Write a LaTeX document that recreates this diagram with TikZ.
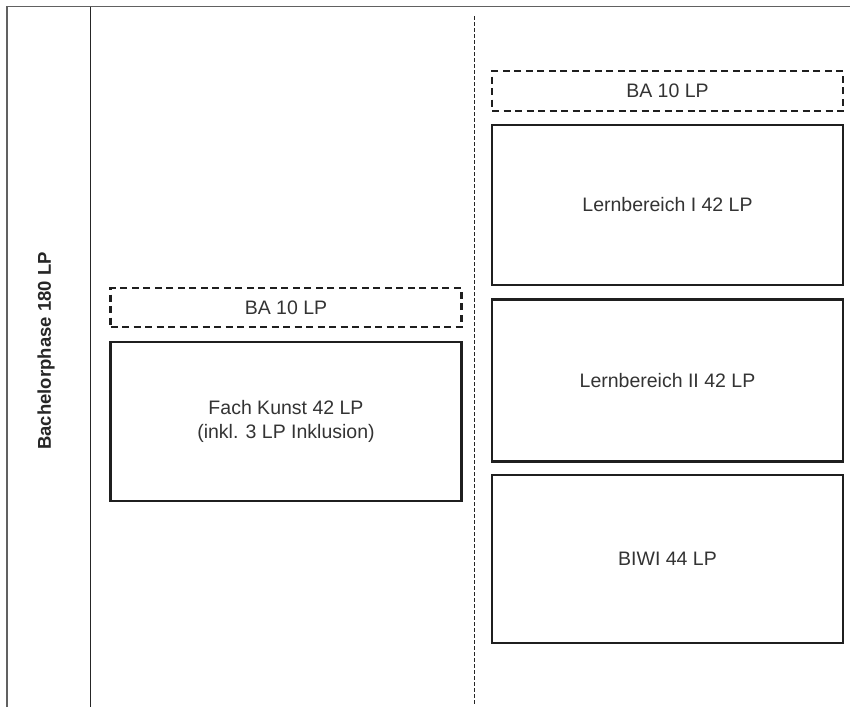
\documentclass[tikz,border=0pt]{standalone}
\usepackage{fontspec}
\setmainfont{Liberation Sans}
\begin{document}
\begin{tikzpicture}[x=1pt,y=-1pt,
  blk/.style={draw=black!88,line width=2.4pt,inner sep=0pt,text=black!80,font=\fontsize{19.5}{24}\selectfont,align=center},
  dbox/.style={draw=black!88,line width=2.4pt,dash pattern=on 7pt off 4.5pt,inner sep=0pt,text=black!80,font=\fontsize{19.5}{24}\selectfont},
  frameline/.style={draw=black!62,line width=1.8pt},
  sepline/.style={draw=black!85,line width=1.7pt},
  dotline/.style={draw=black!85,line width=1.1pt,dash pattern=on 3.5pt off 2.5pt}]
\useasboundingbox (0,0) rectangle (850,707);
% frame
\coordinate (tl) at (7,6.5);
\coordinate (tr) at (850,6.5);
\coordinate (bl) at (7,707);
\coordinate (st) at (90.5,6.5);
\coordinate (sb) at (90.5,707);
\coordinate (dt) at (474.5,16);
\coordinate (db) at (474.5,704);
\draw[frameline] (bl) -- (tl) -- (tr);
\draw[sepline] (st) -- (sb);
\draw[dotline] (dt) -- (db);
% side label
\node[rotate=90,font=\bfseries\fontsize{18.5}{22}\selectfont,text=black!85] (lab) at (46,351) {Bachelorphase 180 LP};
% left column
\node[dbox,minimum width=351pt,minimum height=39pt] (ba1) at (286,307.5) {BA 10 LP};
\node[blk,minimum width=351pt,minimum height=159pt] (kunst) at (286,421.5) {Fach Kunst 42 LP\\(inkl. 3 LP Inklusion)};
% right column
\node[dbox,minimum width=351pt,minimum height=40pt] (ba2) at (667.5,91) {BA 10 LP};
\node[blk,minimum width=351pt,minimum height=160pt] (lb1) at (667.5,205) {Lernbereich I 42 LP};
\node[blk,minimum width=351pt,minimum height=162pt] (lb2) at (667.5,380.5) {Lernbereich II 42 LP};
\node[blk,minimum width=351pt,minimum height=168pt] (biwi) at (667.5,559) {BIWI 44 LP};
\end{tikzpicture}
\end{document}
